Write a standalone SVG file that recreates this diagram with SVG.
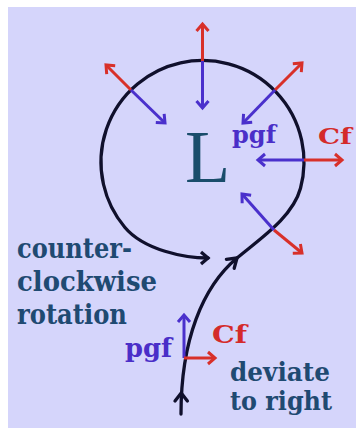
<svg xmlns="http://www.w3.org/2000/svg" width="356" height="431" viewBox="0 0 356 431">
<style>
.red{stroke:#d8302a;stroke-width:3;fill:none;marker-end:url(#hr)}
.blue{stroke:#4a30cc;stroke-width:3;fill:none;marker-end:url(#hb)}
.blk{stroke:#10102c;stroke-width:3.3;fill:none;stroke-linecap:round;stroke-linejoin:round}
.t{font-family:"DejaVu Serif","Liberation Serif",serif;font-weight:bold;fill:#1f4a72}
.tb{font-family:"DejaVu Serif","Liberation Serif",serif;font-weight:bold;fill:#4a2ec8}
.tr{font-family:"DejaVu Serif","Liberation Serif",serif;font-weight:bold;fill:#d42a2a}
</style>
<defs>
<marker id="hr" markerUnits="userSpaceOnUse" markerWidth="16" markerHeight="16" refX="12" refY="8" orient="auto" overflow="visible">
<path d="M5,2 L12,8 L5,14" fill="none" stroke="#d8302a" stroke-width="3" stroke-linejoin="miter"/>
</marker>
<marker id="hb" markerUnits="userSpaceOnUse" markerWidth="16" markerHeight="16" refX="12" refY="8" orient="auto" overflow="visible">
<path d="M5,2 L12,8 L5,14" fill="none" stroke="#4a30cc" stroke-width="3" stroke-linejoin="miter"/>
</marker>
<marker id="hk" markerUnits="userSpaceOnUse" markerWidth="16" markerHeight="16" refX="12" refY="8" orient="auto" overflow="visible">
<path d="M5,2 L12,8 L5,14" fill="none" stroke="#10102c" stroke-width="3.3"/>
</marker>
</defs>
<rect x="0" y="0" width="356" height="431" fill="#ffffff"/>
<rect x="8" y="7" width="348" height="421" fill="#d5d5fb"/>
<g id="connectors">
<path class="blk" d="M181,414 C181,340 202.5,286.9 237,258 C260,238.7 292.7,217.3 300.5,188.3 A101.5,101.5 0 1 0 124.75,227.2 C144,250.2 185,258 208,258" marker-end="url(#hk)"/>
<path class="blk" d="M175,401 L181.2,393 L187.4,401"/>
<path class="blk" d="M226.4,259.4 L237,258 L234.2,268.3"/>
<line class="red" x1="202.5" y1="61" x2="202.5" y2="24"/>
<line class="blue" x1="202.5" y1="61" x2="202.5" y2="108"/>
<line class="red" x1="131" y1="90" x2="106" y2="65"/>
<line class="blue" x1="131" y1="90" x2="165" y2="123"/>
<line class="red" x1="275" y1="90" x2="302" y2="63"/>
<line class="blue" x1="275" y1="90" x2="243" y2="123"/>
<line class="red" x1="304" y1="160" x2="342" y2="160"/>
<line class="blue" x1="304" y1="160" x2="258" y2="160"/>
<line class="red" x1="274" y1="230" x2="302" y2="253"/>
<line class="blue" x1="274" y1="230" x2="242" y2="194"/>
<line class="blue" x1="184" y1="358" x2="184" y2="315"/>
<line class="red" x1="184" y1="358" x2="215" y2="358"/>
</g>
<g id="low">
<text x="185" y="182" font-family="'Liberation Serif',serif" font-size="74" fill="#1a4d6b">L</text>
</g>
<g id="pgf-top"><text class="tb" x="232" y="143" font-size="24" textLength="44" lengthAdjust="spacingAndGlyphs">pgf</text></g>
<g id="cf-top"><text class="tr" x="318" y="144" font-size="22" textLength="34" lengthAdjust="spacingAndGlyphs">Cf</text></g>
<g id="pgf-bottom"><text class="tb" x="125" y="357" font-size="26" textLength="47" lengthAdjust="spacingAndGlyphs">pgf</text></g>
<g id="cf-bottom"><text class="tr" x="212" y="343" font-size="25" textLength="35" lengthAdjust="spacingAndGlyphs">Cf</text></g>
<g id="rotation-label">
<text class="t" x="17" y="258" font-size="27" textLength="115" lengthAdjust="spacingAndGlyphs">counter-</text>
<text class="t" x="17" y="291" font-size="27" textLength="140" lengthAdjust="spacingAndGlyphs">clockwise</text>
<text class="t" x="17" y="324" font-size="27" textLength="110" lengthAdjust="spacingAndGlyphs">rotation</text>
</g>
<g id="deviate-label">
<text class="t" x="230" y="381" font-size="26" textLength="100" lengthAdjust="spacingAndGlyphs">deviate</text>
<text class="t" x="230" y="410" font-size="26" textLength="102" lengthAdjust="spacingAndGlyphs">to right</text>
</g>
</svg>
